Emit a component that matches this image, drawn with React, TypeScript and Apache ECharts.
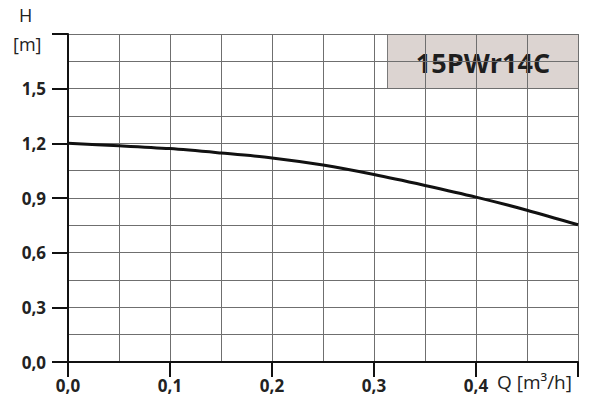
import React, { useEffect, useRef } from "react";
import * as echarts from "echarts";

const flowQ = [0, 0.05, 0.1, 0.15, 0.2, 0.25, 0.3, 0.35, 0.4, 0.45, 0.5];
const headH = [1.2, 1.187, 1.171, 1.147, 1.12, 1.081, 1.029, 0.969, 0.905, 0.833, 0.753];
const modelName = "15PWr14C";
const yAxisTitle = ["H", "[m]"];
const xAxisTitle = "Q [m³/h]";

const fmt = (v: number) => v.toFixed(1).replace(".", ",");

export default function App() {
  const ref = useRef<HTMLDivElement>(null);
  useEffect(() => {
    if (!ref.current) return;
    const chart = echarts.init(ref.current, undefined, { renderer: "svg" });
    const font = "'Open Sans', sans-serif";
    const gridColor = "#6f6f6f";
    chart.setOption({
      animation: false,
      backgroundColor: "#ffffff",
      grid: { left: 68, top: 34, right: 12, bottom: 50, containLabel: false },
      xAxis: {
        type: "value",
        min: 0,
        max: 0.5,
        interval: 0.1,
        axisLine: { show: true, onZero: false, lineStyle: { color: "#111", width: 2 } },
        axisTick: { show: true, length: 15, lineStyle: { color: "#111", width: 2 } },
        axisLabel: {
          margin: 15,
          fontFamily: font,
          fontWeight: 700,
          fontSize: 17,
          color: "#222",
          formatter: (v: number) => (Math.abs(v - 0.5) < 1e-9 ? "" : fmt(v)),
        },
        splitLine: { show: true, lineStyle: { color: gridColor, width: 1 } },
        minorTick: { show: false, splitNumber: 2 },
        minorSplitLine: { show: true, lineStyle: { color: gridColor, width: 1 } },
      },
      yAxis: {
        type: "value",
        min: 0,
        max: 1.8,
        interval: 0.3,
        axisLine: { show: true, onZero: false, lineStyle: { color: "#111", width: 2 } },
        axisTick: { show: true, length: 16, lineStyle: { color: "#111", width: 2 } },
        axisLabel: {
          margin: 22,
          fontFamily: font,
          fontWeight: 700,
          fontSize: 17,
          color: "#222",
          formatter: (v: number) => (Math.abs(v - 1.8) < 1e-9 ? "" : fmt(v)),
        },
        splitLine: { show: true, lineStyle: { color: gridColor, width: 1 } },
        minorTick: { show: false, splitNumber: 2 },
        minorSplitLine: { show: true, lineStyle: { color: gridColor, width: 1 } },
      },
      series: [
        {
          type: "line",
          data: flowQ.map((q, i) => [q, headH[i]]),
          smooth: 0.3,
          symbol: "none",
          lineStyle: { color: "#111", width: 3 },
          z: 5,
        },
      ],
      graphic: [
        {
          type: "text",
          left: 19,
          top: 6,
          style: { text: yAxisTitle[0], font: `400 18px ${font}`, fill: "#222" },
        },
        {
          type: "text",
          left: 13,
          top: 35,
          style: { text: yAxisTitle[1], font: `400 18px ${font}`, fill: "#222" },
        },
        {
          type: "text",
          left: 497,
          top: 372,
          style: { text: xAxisTitle, font: `400 19px ${font}`, fill: "#222" },
        },
        {
          type: "group",
          left: 387,
          top: 34,
          z: 100,
          children: [
            {
              type: "rect",
              shape: { x: 0, y: 0, width: 191, height: 54 },
              style: { fill: "#dcd4d1", stroke: "#7a7a7a", lineWidth: 1 },
            },
            {
              type: "text",
              x: 95.5,
              y: 28,
              style: {
                text: modelName,
                font: `700 27px ${font}`,
                fill: "#1e1e1e",
                textAlign: "center",
                textVerticalAlign: "middle",
              },
            },
          ],
        },
      ],
    });
    return () => chart.dispose();
  }, []);
  return (
    <div
      ref={ref}
      style={{ position: "absolute", left: 0, top: 0, width: 590, height: 412 }}
    />
  );
}
